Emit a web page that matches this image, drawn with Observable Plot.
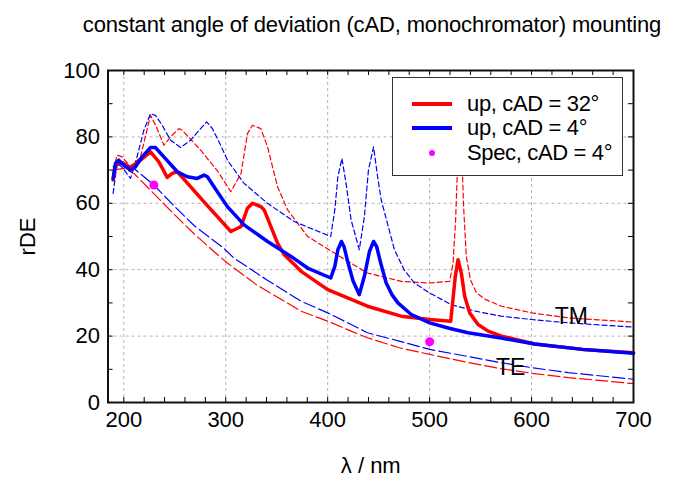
<!DOCTYPE html>
<html>
<head>
<meta charset="utf-8">
<script src="https://cdn.jsdelivr.net/npm/d3@7"></script>
<script src="https://cdn.jsdelivr.net/npm/@observablehq/plot@0.6"></script>
<style>
  body { margin: 0; background: #fff; font-family: "Liberation Sans", Arial, sans-serif; }
  #wrap { position: relative; width: 675px; height: 477px; }
  #title { position: relative; height: 50px; }
  #title span { position: absolute; left: 372px; top: 14px; transform: translateX(-50%); white-space: nowrap; font-size: 22px; letter-spacing: -0.15px; color: #000; line-height: 1; }
  #legend { position: absolute; left: 392px; top: 77px; width: 229px; height: 97px; border: 1.5px solid #333; background: #fff; }
  .item { position: absolute; left: 0; height: 24px; width: 229px; }
  .item .sw { position: absolute; left: 19px; top: 10px; width: 40px; height: 4px; }
  .item .dot { position: absolute; left: 35.5px; top: 9px; width: 6px; height: 6px; border-radius: 50%; background: #ff00ff; }
  .item .lab { position: absolute; left: 74px; top: 0px; font-size: 22px; letter-spacing: -0.35px; line-height: 24px; white-space: nowrap; }
</style>
</head>
<body>
<div id="wrap">
  <div id="title"><span>constant angle of deviation (cAD, monochromator) mounting</span></div>
  <div id="chart"></div>
  <div id="legend"></div>
</div>
<script>
// ---- data ----
const xTicks = [200, 300, 400, 500, 600, 700];
const yTicks = [0, 20, 40, 60, 80, 100];
const xMinorTicks = d3.range(200, 701, 20);
const yMinorTicks = d3.range(0, 101, 10);

// thick red: up, cAD = 32°
const up32Lam = [189.5,191.8,195,200,206.6,216.4,226.2,234.4,242.6,247.5,252.5,280,305,315,321.3,326.2,334.4,337.7,344.3,350.8,357.4,374,400,439,472,500,520.7,525.2,527.9,531.1,534.4,539.3,547.5,557.4,570.5,603,650,700];
const up32Val = [67,71,72.5,72,70.8,73,75.5,72.5,67.8,69,69.5,60,51.5,53,58.5,60,59,58,53,48,44.5,39.5,34,29,26,25,24.5,38,43,39,32,27,23.5,21.5,20,17.6,16,15];

// thick blue: up, cAD = 4°
const up4Lam = [189.5,191.8,195,200,206.6,211.5,218,226.2,231,239.3,252.5,262.3,272,278.7,282,288.5,301.6,318,341,364,380.3,403,407,410,413.5,416,420,425,431,436,441,445,448,452,457.4,463,468.9,482,500,520,537.7,570,603,650,700];
const up4Val = [67.5,72,73,71.5,70,71,74,76.8,76.8,74,69.5,68,67.5,68.5,68,65,59,53.5,48.5,44,40.5,37.5,41,46,48.5,47,42,36.5,32.5,38,45.5,48.5,47,42,36,32.5,30,26.5,24,22.3,21,19.4,17.6,16,14.8];

// thin dashed blue: TM, cAD = 4°
const tm4Lam = [189.5,193.5,198,206.6,213,219.7,226.2,231,237.7,245.9,255.7,265.6,275.4,281.3,286.9,295,301.6,318,341,367.2,403,407,410,414,418,423,431,436,440,445,449,452.5,456,465.5,475,485,500,521,545,570,600,636,700];
const tm4Val = [63,72,71,67.5,74,82,87,86.5,83.5,79,76.8,79,82.5,84.5,82.5,77.5,73,66,60,54.5,50,58,68,73.5,66,55,46,56,70,77,68,61,57,46,40,36,33,29.5,27.5,26,25,24,22.7];

// thin dashed red: TM, cAD = 32°
const tm32Lam = [189.5,193.5,198.4,206.6,216.4,226.2,232,239.3,246,254,257.4,275.4,291.8,305,315,321.3,326.2,334.4,341,350.8,360.7,380.3,406.6,439,472,500,519.7,523,525.5,527.5,529.5,531.5,533.5,536,540,546,555,570.5,600,636,700];
const tm32Val = [70,74.5,74,71,74,86.5,83,77.5,80,82.5,82,76,69.8,63.5,69,81,83.5,82.5,77,65,58,50,45,39,36.5,36,36.5,42,55,72,90,75,58,44,37,33,31,29,27,25.5,24.2];

// long dashed red: TE, cAD = 32°
const te32Lam = [189.5,200,210,226,250,270,292,301.6,330,374,400,423,439,470,500,535,570,600,636,700];
const te32Val = [70,70.5,69,64,56.5,50.5,44.5,42,35.5,27.5,24.5,21.5,19.5,16.5,14.5,12.2,10.2,8.8,7.5,5.7];

// long dashed blue: TE, cAD = 4°
const te4Lam = [189.5,200,210,229.5,250,270,298,308,340,374,400,423,439,470,500,535,570,600,636,700];
const te4Val = [71,72,70.5,65.5,59,53,46.5,43.5,37,30.5,27,23.5,21,18.5,16,14,12,10.5,9,7];

// magenta points: Spec, cAD = 4°
const specLam = [229.5, 500];
const specVal = [65.5, 18.3];

// curve labels
const curveLabels = ["TM", "TE"];
const curveLabelLam = [639, 579.5];
const curveLabelVal = [25.9, 10.4];

// legend entries
const legendNames = ["up, cAD = 32°", "up, cAD = 4°", "Spec, cAD = 4°"];
const legendColors = ["#ff0000", "#0000ff", "#ff00ff"];

// ---- build ----
const zip = (xs, ys) => xs.map((x, i) => ({x, y: ys[i]}));
const up32 = zip(up32Lam, up32Val);
const up4 = zip(up4Lam, up4Val);
const tm4 = zip(tm4Lam, tm4Val);
const tm32 = zip(tm32Lam, tm32Val);
const te32 = zip(te32Lam, te32Val);
const te4 = zip(te4Lam, te4Val);
const spec = zip(specLam, specVal);
const labels = curveLabels.map((t, i) => ({t, x: curveLabelLam[i], y: curveLabelVal[i]}));

const xDom = [184.5, 700];
const yDom = [0, 100];
const tickLenX = 1.5;   // in y units
const tickLenY = 5;     // in x units

const chart = Plot.plot({
  width: 675,
  height: 427,
  marginLeft: 107.5,
  marginRight: 42,
  marginTop: 20,
  marginBottom: 75,
  x: {domain: xDom},
  y: {domain: yDom},
  style: {fontFamily: "'Liberation Sans', Arial, sans-serif", fontSize: "22px", color: "#000", background: "#fff", overflow: "visible"},
  marks: [
    Plot.gridX(xTicks, {stroke: "#b4b4b4", strokeOpacity: 1, strokeDasharray: "3,3"}),
    Plot.gridY(yTicks, {stroke: "#b4b4b4", strokeOpacity: 1, strokeDasharray: "3,3"}),
    Plot.line(te32, {x: "x", y: "y", stroke: "#ff0000", strokeWidth: 1.2, strokeDasharray: "12,4"}),
    Plot.line(te4, {x: "x", y: "y", stroke: "#0000ff", strokeWidth: 1.2, strokeDasharray: "12,4"}),
    Plot.line(tm32, {x: "x", y: "y", stroke: "#ff0000", strokeWidth: 1.2, strokeDasharray: "5,3"}),
    Plot.line(tm4, {x: "x", y: "y", stroke: "#0000ff", strokeWidth: 1.2, strokeDasharray: "5,3"}),
    Plot.line(up32, {x: "x", y: "y", stroke: "#ff0000", strokeWidth: 3.5, strokeLinejoin: "round"}),
    Plot.line(up4, {x: "x", y: "y", stroke: "#0000ff", strokeWidth: 3.5, strokeLinejoin: "round"}),
    Plot.dot(spec, {x: "x", y: "y", r: 4.5, fill: "#ff00ff", stroke: null}),
    Plot.text(labels, {x: "x", y: "y", text: "t", fontSize: 23, fill: "#000", letterSpacing: "-1px"}),
    // inward minor/major ticks on all four sides
    Plot.ruleX(xMinorTicks, {x: d => d, y1: yDom[0], y2: yDom[0] + tickLenX, stroke: "#000", strokeWidth: 1}),
    Plot.ruleX(xMinorTicks, {x: d => d, y1: yDom[1], y2: yDom[1] - tickLenX, stroke: "#000", strokeWidth: 1}),
    Plot.ruleY(yMinorTicks, {y: d => d, x1: xDom[0], x2: xDom[0] + tickLenY, stroke: "#000", strokeWidth: 1}),
    Plot.ruleY(yMinorTicks, {y: d => d, x1: xDom[1], x2: xDom[1] - tickLenY, stroke: "#000", strokeWidth: 1}),
    Plot.frame({stroke: "#111", strokeWidth: 2}),
    Plot.axisX({ticks: xTicks, tickSize: 0, tickPadding: 9, label: null, fontSize: 22, letterSpacing: "-1px"}),
    Plot.axisY({ticks: yTicks, tickSize: 0, tickPadding: 8, label: null, fontSize: 22, letterSpacing: "-1px"}),
    Plot.text(["λ / nm"], {frameAnchor: "bottom", dy: 63, lineAnchor: "middle", fontSize: 22, letterSpacing: "-0.5px"}),
    Plot.text(["rDE"], {frameAnchor: "left", dx: -80, rotate: -90, textAnchor: "middle", lineAnchor: "middle", fontSize: 22, letterSpacing: "-0.5px"})
  ]
});
document.getElementById("chart").appendChild(chart);

// legend (HTML overlay with opaque background)
const lg = document.getElementById("legend");
legendNames.forEach((name, i) => {
  const it = document.createElement("div");
  it.className = "item";
  it.style.top = (13.5 + i * 24.5) + "px";
  const sw = document.createElement("div");
  if (i < 2) { sw.className = "sw"; sw.style.background = legendColors[i]; }
  else { sw.className = "dot"; sw.style.background = legendColors[i]; }
  const lab = document.createElement("div");
  lab.className = "lab";
  lab.textContent = name;
  it.appendChild(sw); it.appendChild(lab);
  lg.appendChild(it);
});
</script>
</body>
</html>
